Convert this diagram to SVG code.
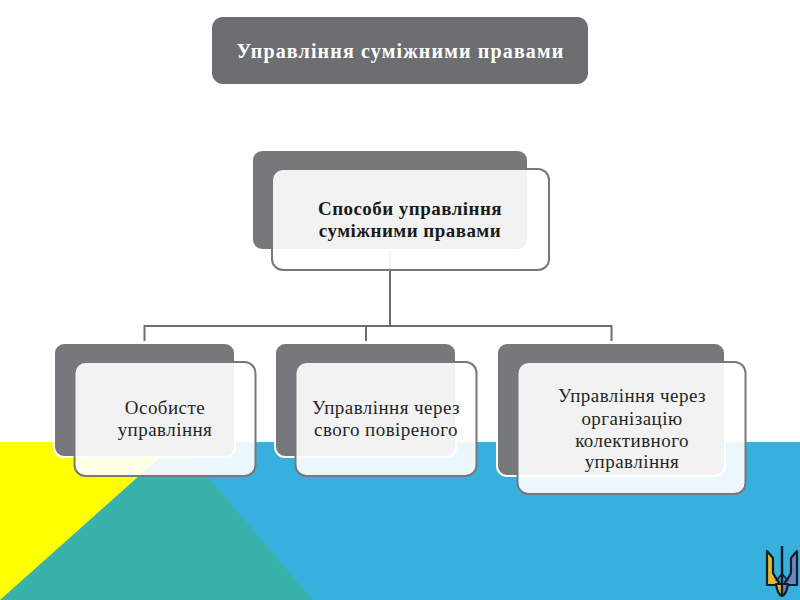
<svg xmlns="http://www.w3.org/2000/svg" width="800" height="600" viewBox="0 0 800 600">
<style>
.back{fill:#77787b;stroke:#fff;stroke-width:2}
.front{fill:#fff;fill-opacity:.9;stroke:#77787b;stroke-width:2}
.t{font-family:"Liberation Serif","Times New Roman",serif;font-size:19px;letter-spacing:.45px;fill:#262626;text-anchor:middle}
.b{font-weight:bold;fill:#1a1a1a}
.c{fill:none;stroke:#6d6e71;stroke-width:2}
.e{stroke:#111c2a;stroke-width:2.200;stroke-linejoin:round}
</style>
<rect width="800" height="600" fill="#fff"/>
<g id="background">
<rect x="0" y="442" width="800" height="158" fill="#38b0de"/>
<polygon points="178,442 0,600 313,600" fill="#3ab2ac"/>
<polygon points="0,442 177,442 0,600" fill="#ff0"/>
</g>
<g id="connectors">
<path class="c" d="M390 250V326M144.500 341V326H611.500V341M366 326V341"/>
</g>
<g id="title">
<rect x="212" y="17" width="376" height="67" rx="11" fill="#6d6e71"/>
<text x="400.500" y="58" text-anchor="middle" font-family="'Liberation Serif','Times New Roman',serif" font-size="20" font-weight="bold" fill="#fff" letter-spacing="1.150">Управління суміжними правами</text>
</g>
<g id="node-root">
<rect class="back" x="252" y="150" width="276" height="100" rx="10"/>
<rect class="front" x="272" y="169" width="277" height="101" rx="11"/>
<text class="t b" x="410" y="215">Способи управління</text>
<text class="t b" x="410" y="237">суміжними правами</text>
</g>
<g id="node-personal">
<rect class="back" x="54" y="343" width="181" height="114" rx="10"/>
<rect class="front" x="74.500" y="362" width="181" height="114" rx="11"/>
<text class="t" x="165" y="414">Особисте</text>
<text class="t" x="165" y="436">управління</text>
</g>
<g id="node-agent">
<rect class="back" x="275" y="343" width="181" height="114" rx="10"/>
<rect class="front" x="295.500" y="362" width="181" height="114" rx="11"/>
<text class="t" x="386" y="414">Управління через</text>
<text class="t" x="386" y="436">свого повіреного</text>
</g>
<g id="node-collective">
<rect class="back" x="497" y="343" width="228" height="133" rx="10"/>
<rect class="front" x="517.500" y="362" width="228" height="132" rx="11"/>
<text class="t" x="632" y="402">Управління через</text>
<text class="t" x="632" y="424.500">організацію</text>
<text class="t" x="632" y="446.500">колективного</text>
<text class="t" x="632" y="468">управління</text>
</g>
<g id="emblem">
<path class="e" d="M767 551L773 558V573C775 577 777 580 779 582L777 585H767Z" fill="#e6b92e"/>
<path class="e" d="M797 551L791 558V573C789 577 787 580 785 582L787 585H797Z" fill="#6d84c0"/>
<path class="e" d="M776 584H782V596C779 595 777 591 776 584Z" fill="#e6b92e"/>
<path class="e" d="M788 584H782V596C785 595 787 591 788 584Z" fill="#6d84c0"/>
<path d="M782 546V584" stroke="#111c2a" stroke-width="2.500" fill="none"/>
<path d="M776 581L782 574L788 581" stroke="#111c2a" stroke-width="1.800" fill="none"/>
</g>
</svg>
